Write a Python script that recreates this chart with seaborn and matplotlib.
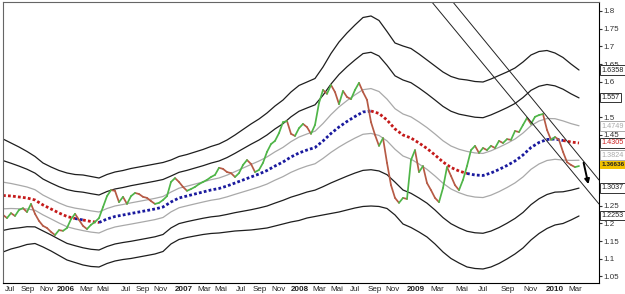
import numpy as np
import pandas as pd
import matplotlib
matplotlib.use("Agg")
import matplotlib.pyplot as plt
import seaborn as sns

# Weekly price (close), one value every bar step
price = [1.224, 1.215, 1.229, 1.221, 1.238, 1.243, 1.232, 1.255, 1.227, 1.207,
         1.193, 1.187, 1.176, 1.167, 1.181, 1.179, 1.187, 1.212, 1.227, 1.210,
         1.193, 1.184, 1.196, 1.204, 1.215, 1.246, 1.277, 1.294, 1.292, 1.260,
         1.275, 1.255, 1.277, 1.286, 1.283, 1.275, 1.272, 1.263, 1.255, 1.258,
         1.266, 1.277, 1.317, 1.328, 1.317, 1.303, 1.292, 1.297, 1.303, 1.311,
         1.317, 1.323, 1.331, 1.337, 1.357, 1.354, 1.345, 1.342, 1.331, 1.342,
         1.365, 1.379, 1.368, 1.345, 1.351, 1.371, 1.402, 1.424, 1.433, 1.455,
         1.486, 1.489, 1.453, 1.447, 1.469, 1.481, 1.472, 1.453, 1.478, 1.540,
         1.577, 1.566, 1.591, 1.571, 1.537, 1.574, 1.557, 1.551, 1.577, 1.597,
         1.571, 1.549, 1.486, 1.450, 1.419, 1.441, 1.371, 1.308, 1.272, 1.258,
         1.272, 1.269, 1.379, 1.407, 1.345, 1.362, 1.314, 1.294, 1.272, 1.260,
         1.300, 1.359, 1.334, 1.308, 1.294, 1.323, 1.362, 1.407, 1.419, 1.399,
         1.413, 1.407, 1.419, 1.413, 1.433, 1.427, 1.438, 1.436, 1.461, 1.458,
         1.478, 1.498, 1.481, 1.501, 1.506, 1.509, 1.464, 1.436, 1.444, 1.436,
         1.402, 1.373, 1.365, 1.359, 1.362]

# Band midline and outer half-width, one value every second bar
center = [1.2788, 1.2774, 1.2746, 1.2718, 1.2661, 1.2520, 1.2407, 1.2294, 1.2195, 1.2138,
          1.2096, 1.2054, 1.2025, 1.2124, 1.2195, 1.2237, 1.2280, 1.2322, 1.2364, 1.2407,
          1.2463, 1.2605, 1.2718, 1.2774, 1.2831, 1.2887, 1.2944, 1.2986, 1.3056, 1.3141,
          1.3226, 1.3311, 1.3395, 1.3494, 1.3621, 1.3734, 1.3876, 1.3989, 1.4073, 1.4144,
          1.4328, 1.4540, 1.4723, 1.4879, 1.5020, 1.5147, 1.5175, 1.5105, 1.4921, 1.4667,
          1.4497, 1.4412, 1.4271, 1.4116, 1.3932, 1.3734, 1.3579, 1.3480, 1.3410, 1.3367,
          1.3353, 1.3424, 1.3523, 1.3636, 1.3763, 1.3932, 1.4144, 1.4285, 1.4370, 1.4384,
          1.4342, 1.4299, 1.4271]
width = [0.1596, 0.1497, 0.1412, 0.1314, 0.1229, 0.1186, 0.1186, 0.1201, 0.1229, 0.1243,
         0.1271, 0.1271, 0.1257, 0.1257, 0.1257, 0.1257, 0.1271, 0.1271, 0.1271, 0.1271,
         0.1257, 0.1186, 0.1172, 0.1172, 0.1186, 0.1201, 0.1229, 0.1257, 0.1299, 0.1356,
         0.1427, 0.1497, 0.1554, 0.1624, 0.1695, 0.1751, 0.1836, 0.1907, 0.1921, 0.1949,
         0.2090, 0.2260, 0.2401, 0.2500, 0.2585, 0.2669, 0.2684, 0.2627, 0.2500, 0.2429,
         0.2514, 0.2528, 0.2514, 0.2500, 0.2514, 0.2542, 0.2571, 0.2599, 0.2641, 0.2641,
         0.2641, 0.2655, 0.2655, 0.2641, 0.2627, 0.2627, 0.2613, 0.2571, 0.2514, 0.2429,
         0.2345, 0.2203, 0.2062]
fib_ratios = [0.236, 0.618, 1.0]

# x axis labels (bar index of each label)
tick_pos = [1.75, 6.25, 11, 15.75, 20.75, 25, 30.75, 35, 39.5, 45.25, 50.25, 54.5, 59.5,
            64.25, 69, 74.25, 79, 83.5, 88, 93, 97.5, 103.25, 108.5, 114.75, 120,
            126.25, 131.75, 138, 143]
tick_lab = ["Jul", "Sep", "Nov", "2006", "Mar", "Mai", "Jul", "Sep", "Nov", "2007", "Mar",
            "Mai", "Jul", "Sep", "Nov", "2008", "Mar", "Mai", "Jul", "Sep", "Nov", "2009",
            "Mar", "Mai", "Jul", "Sep", "Nov", "2010", "Mar"]
y_ticks = [1.05, 1.1, 1.15, 1.2, 1.25, 1.45, 1.5, 1.6, 1.65, 1.7, 1.75, 1.8]

# trend channel and last-value boxes
upper_x = [112.5, 149]
upper_y = [1.825, 1.3226]
lower_x = [107.25, 149]
lower_y = [1.825, 1.2548]
box_vals = [1.6333, 1.5545, 1.475, 1.4271, 1.393, 1.366, 1.300, 1.223]
box_text = ["1.6358", "1.557", "1.4749", "1.4305", "1.3824", "1.36636", "1.3037", "1.2253"]
box_kind = ["black", "black", "gray", "red", "gray", "price", "black", "black"]

sns.set_style("white")
plt.rcParams["font.family"] = ["Liberation Sans", "DejaVu Sans"]

fig = plt.figure(figsize=(6.25, 2.94), dpi=100)
ax = fig.add_axes([3 / 625, 11 / 294, 596 / 625, 281 / 294])

bx = np.arange(len(center)) * 2
c = np.array(center)
w = np.array(width)

# bands
for r in fib_ratios:
    col = "#a9a9a9" if r < 0.5 else "#1e1e1e"
    for sgn in (1, -1):
        sns.lineplot(x=bx, y=c + sgn * r * w, color=col, lw=0.9, ax=ax)

# midline, blue while price is above, red while below
p = np.array(price)
above = p[bx] >= c
runs = []
start = 0
for j in range(1, len(c)):
    if above[j] != above[start] or j == len(c) - 1:
        runs.append((start, j, above[start]))
        start = j
for s, e, up in runs:
    sns.lineplot(x=bx[s:e + 1], y=c[s:e + 1], color="#1a1a9e" if up else "#c41a1a",
                 lw=2.0, linestyle=(0, (1, 0.8)), ax=ax)

# price, green up / red down
segs = []
for i in range(len(p) - 1):
    d = "up" if p[i + 1] >= p[i] else "down"
    segs.append({"x": i, "y": p[i], "seg": i, "dir": d})
    segs.append({"x": i + 1, "y": p[i + 1], "seg": i, "dir": d})
seg_df = pd.DataFrame(segs)
sns.lineplot(data=seg_df, x="x", y="y", units="seg", hue="dir", estimator=None,
             palette={"up": "#4fb548", "down": "#b65a45"}, lw=1.25, legend=False, ax=ax)

# trend channel
ax.plot(upper_x, upper_y, color="#222222", lw=0.7)
ax.plot(lower_x, lower_y, color="#222222", lw=0.7)
ax.annotate("", xy=(146.5, 1.303), xytext=(145, 1.379),
            arrowprops=dict(arrowstyle="-|>", lw=1.4, color="black", mutation_scale=7))

ax.set_xlim(0, 149)
ax.set_ylim(1.0316, 1.8254)
ax.set_xlabel("")
ax.set_ylabel("")

ax.set_xticks(tick_pos)
ax.set_xticklabels(tick_lab)
for t in ax.get_xticklabels():
    if t.get_text().isdigit():
        t.set_fontweight("bold")
ax.yaxis.tick_right()
ax.set_yticks(y_ticks)
ax.set_yticklabels([f"{v:g}" for v in y_ticks])
ax.tick_params(axis="x", labelsize=5.8, length=0, pad=2, colors="#222222")
ax.tick_params(axis="y", labelsize=5.8, length=2, pad=1, colors="#333333")

for s in ax.spines.values():
    s.set_color("#666666")
    s.set_linewidth(0.8)
ax.spines["right"].set_color("black")
ax.spines["bottom"].set_color("black")

tr = ax.get_yaxis_transform()
for v, txt, kind in zip(box_vals, box_text, box_kind):
    fc, tc, ec, fw, fs = "white", "#222222", "#333333", "normal", 5.2
    if kind == "gray":
        tc, ec = "#aaaaaa", "#aaaaaa"
    elif kind == "red":
        tc, ec = "#cc2222", "#333333"
    elif kind == "price":
        fc, tc, ec, fw, fs = "#f2c200", "#222222", "#f2c200", "bold", 4.6
    ax.text(1.004, v, txt, transform=tr, fontsize=fs, color=tc, fontweight=fw,
            va="center", ha="left", clip_on=False, zorder=5,
            bbox=dict(boxstyle="square,pad=0.15", fc=fc, ec=ec, lw=0.7))

fig.savefig("out.png", dpi=100, facecolor="white")
